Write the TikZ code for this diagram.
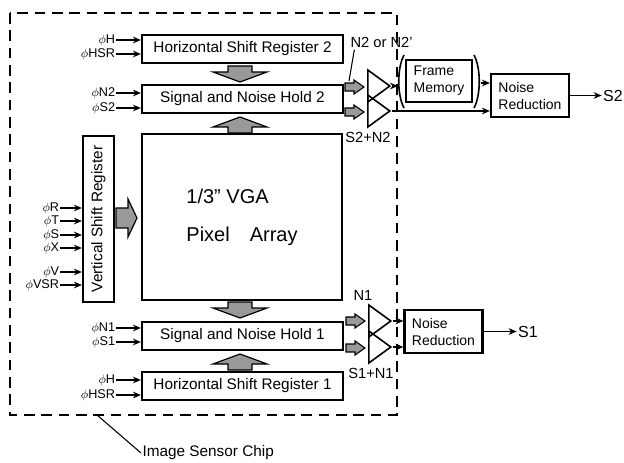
\documentclass[tikz,border=0pt]{standalone}
\usepackage{fontspec}
\setmainfont{Liberation Sans}
\usetikzlibrary{arrows.meta,shapes.geometric}

\begin{document}
\begin{tikzpicture}[
  x=0.75pt, y=-0.75pt,
  font=\fontsize{11.5}{13}\selectfont,
  box/.style={draw, line width=1.6pt, inner sep=2pt, align=center},
  bar/.style={box, minimum width=150.75pt, minimum height=21pt},
  nrbox/.style={box, align=left, minimum width=58.5pt, minimum height=32.25pt,
    font=\fontsize{10.5}{12.75}\selectfont},
  sig/.style={anchor=east, inner sep=0.5pt, font=\fontsize{9.5}{11}\selectfont},
  lbl/.style={inner sep=1pt, font=\fontsize{11}{13}\selectfont},
  amp/.style={draw, line width=1.2pt, isosceles triangle, isosceles triangle stretches,
    inner sep=0pt, minimum width=24pt, minimum height=16.5pt, anchor=lower side},
  arr/.style={-{Stealth[length=6pt, width=5pt]}, line width=1.1pt},
  lead/.style={line width=0.8pt},
  chip/.style={dash pattern=on 8pt off 5pt, line width=1.6pt},
  paren/.style={line width=1.2pt},
  vbarrow/.pic={
    \draw[fill=black!40, line width=0.9pt, line join=miter]
      (-12,0) -- (12,0) -- (12,6) -- (27,6) -- (0,16) -- (-27,6) -- (-12,6) -- cycle;
  },
  hbarrow/.pic={
    \draw[fill=black!40, line width=0.9pt, line join=miter]
      (0,-10) -- (12,-10) -- (12,-19) -- (21,0) -- (12,19) -- (12,10) -- (0,10) -- cycle;
  },
  sbarrow/.pic={
    \draw[fill=black!40, line width=0.8pt, line join=miter]
      (0,-4) -- (9,-4) -- (9,-7) -- (19,0) -- (9,7) -- (9,4) -- (0,4) -- cycle;
  },
]

\useasboundingbox (0,0) rectangle (624,463);

% chip outline
\draw[chip] (10,13) rectangle (397,415);

% registers, holds and pixel array
\node[bar] (hsr2) at (242.5,49) {Horizontal Shift Register 2};
\node[bar] (snh2) at (242.5,99) {Signal and Noise Hold 2};
\node[box, minimum width=150pt, minimum height=124.5pt, align=left,
  font=\fontsize{15}{18}\selectfont] (pix) at (242,217)
  {1/3" VGA\\[10.5pt]Pixel\quad Array};
\node[bar] (snh1) at (242.5,336) {Signal and Noise Hold 1};
\node[bar] (hsr1) at (242.5,386) {Horizontal Shift Register 1};
\node[box, rotate=90, minimum width=124.5pt, minimum height=23.25pt]
  (vsr) at (98.5,219) {Vertical Shift Register};

\pic at (240,66) {vbarrow};
\pic[yscale=-1] at (240,133) {vbarrow};
\pic at (240,302) {vbarrow};
\pic[yscale=-1] at (240,370) {vbarrow};
\pic at (116,218) {hbarrow};

% clock inputs
\foreach \n/\t/\yy/\b in {H2/H/40/hsr2, HSR2/HSR/54/hsr2, N2/N2/93/snh2,
    S2/S2/108/snh2, N1/N1/328/snh1, S1/S1/342/snh1, H1/H/380/hsr1,
    HSR1/HSR/395/hsr1} {
  \node[sig] (ph\n) at (116,\yy) {$\phi$\t};
  \draw[arr] (ph\n) -- (ph\n -| \b.west);
}
\foreach \n/\yy in {R/208, T/221, S/235, X/248, V/272, VSR/285} {
  \node[sig] (ph\n) at (60,\yy) {$\phi$\n};
  \draw[arr] (ph\n) -- (ph\n -| vsr.north);
}

% output amplifiers, channel 2
\pic at (345,87) {sbarrow};
\pic at (345,112) {sbarrow};
\node[amp] (a2n) at (367,86) {};
\node[amp] (a2s) at (367,111) {};
\node[lbl, anchor=base west] (n2lab) at (349,48) {N2 or N2'};
\coordinate (g2n) at (349,81);
\draw[lead] ([xshift=4pt]n2lab.south west) -- (g2n);
\node[lbl] (s2n2) at (368,137) {S2+N2};

\node[box, line width=2pt, align=left, minimum width=49.5pt, minimum height=31.5pt,
  font=\fontsize{10.5}{12.75}\selectfont] (fmem) at (439,81) {Frame\\Memory};
\draw[paren] (404,55) .. controls (397,68) and (397,95) .. (404,108);
\draw[paren] (474,55) .. controls (481,68) and (481,95) .. (474,108);
\coordinate (fmin) at (398,86);
\coordinate (fmout) at (481,83);

\node[nrbox] (nr2) at (530,95.5) {Noise\\Reduction};
\node[lbl, font=\fontsize{12}{14}\selectfont] (s2) at (613,95.5) {S2};
\draw[arr] (a2n.apex) -- (fmin);
\draw[arr] (fmout) -- (fmout -| nr2.west);
\draw[arr] (a2s.apex) -- (a2s.apex -| nr2.west);
\draw[arr] (nr2) -- (s2);

% output amplifiers, channel 1
\pic at (346,321) {sbarrow};
\pic at (346,348) {sbarrow};
\node[amp] (a1n) at (368,321) {};
\node[amp] (a1s) at (368,347) {};
\node[lbl] (n1lab) at (363,295) {N1};
\node[lbl] (s1n1) at (371,373) {S1+N1};

\node[nrbox] (nr1) at (443.5,331.5) {Noise\\Reduction};
\node[lbl, font=\fontsize{12}{14}\selectfont] (s1) at (528,331.5) {S1};
\draw[arr] (a1n.apex) -- (a1n.apex -| nr1.west);
\draw[arr] (a1s.apex) -- (a1s.apex -| nr1.west);
\draw[arr] (nr1) -- (s1);

% chip label
\coordinate (chipb) at (97,415);
\node[lbl, anchor=west, font=\fontsize{11.5}{13}\selectfont] (chiplab) at (141,453)
  {Image Sensor Chip};
\draw[lead] (chipb) -- (chiplab.west);

\end{tikzpicture}
\end{document}
